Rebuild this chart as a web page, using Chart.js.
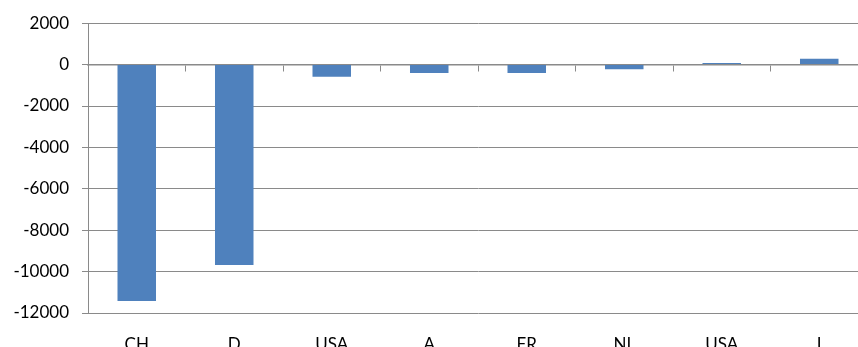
<!DOCTYPE html>
<html>
<head>
<meta charset="utf-8">
<script src="https://cdn.jsdelivr.net/npm/chart.js@4/dist/chart.umd.min.js"></script>
<style>
  html, body { margin: 0; padding: 0; background: #fff; overflow: hidden; }
  #wrap { width: 880px; height: 360px; }
</style>
</head>
<body>
<div id="wrap"><canvas id="c" width="880" height="360"></canvas></div>
<script>
const categories = ["CH", "D", "USA", "A", "FR", "NL", "USA", "I"];
const values = [-11420, -9680, -585, -410, -410, -230, 80, 280];
const yMin = -12000;
const yMax = 2000;
const yStep = 2000;

const gridColor = "#8a8a8a";
const font = { family: "Lato", size: 17 };

new Chart(document.getElementById("c"), {
  type: "bar",
  data: {
    labels: categories,
    datasets: [{
      data: values,
      backgroundColor: "#4F81BD",
      borderWidth: 0,
      barPercentage: 1,
      categoryPercentage: 0.395,
      xAxisID: "x",
      yAxisID: "y"
    }]
  },
  options: {
    responsive: false,
    animation: false,
    devicePixelRatio: 1,
    layout: { padding: { top: 23, right: 12, bottom: 0, left: 0 } },
    plugins: { legend: { display: false }, tooltip: { enabled: false } },
    scales: {
      x: {
        type: "category",
        position: "bottom",
        offset: true,
        grid: { display: false },
        border: { display: false },
        ticks: { color: "#000", font: font, padding: 13, maxRotation: 0 },
        afterFit: s => { s.height = 47; }
      },
      x2: {
        type: "category",
        axis: "x",
        labels: categories,
        position: { y: 0 },
        offset: true,
        grid: { offset: true, drawOnChartArea: false, drawTicks: true, tickLength: 6, color: gridColor, lineWidth: 1 },
        border: { display: true, color: gridColor, width: 1.5 },
        ticks: { display: false }
      },
      y: {
        type: "linear",
        min: yMin,
        max: yMax,
        ticks: { stepSize: yStep, color: "#000", font: font, padding: 13, callback: v => String(v) },
        grid: { color: gridColor, lineWidth: 1, tickLength: 6, drawTicks: true },
        border: { display: true, color: gridColor, width: 1 },
        afterFit: s => { s.width = 88; }
      }
    }
  }
});
</script>
</body>
</html>
